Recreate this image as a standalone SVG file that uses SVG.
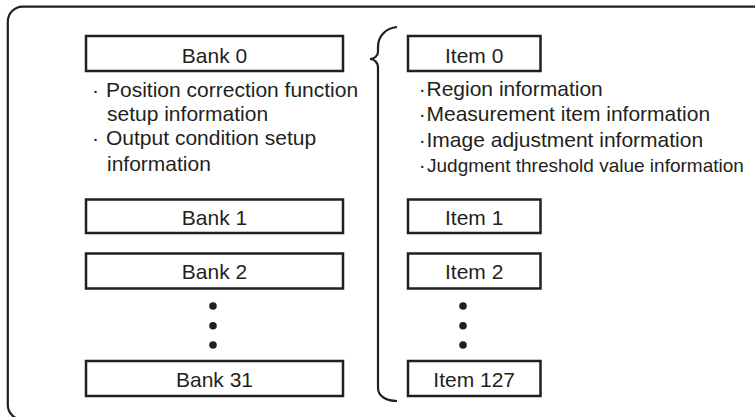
<svg xmlns="http://www.w3.org/2000/svg" width="755" height="417" viewBox="0 0 755 417">
<style>
.box{fill:#fff;stroke:#231f20;stroke-width:2.5}
.lbl{font-family:"Liberation Sans",Arial,sans-serif;font-size:21px;fill:#231f20}
.mid{text-anchor:middle}
.dot{fill:#231f20}
.line{fill:none;stroke:#231f20;stroke-width:2.2}
</style>
<rect width="755" height="417" fill="#fff"/>
<rect id="frame" class="line" x="7.8" y="6.7" width="770" height="413" rx="15" ry="15" stroke-width="2.4"/>
<g id="bank0"><rect class="box" x="86" y="36" width="257" height="35"/><text class="lbl mid" x="214.5" y="63.3">Bank 0</text></g>
<g id="bank0-info">
<text class="lbl" y="96.7"><tspan x="92">·</tspan><tspan x="106">Position correction function</tspan></text>
<text class="lbl" x="107" y="120.7">setup information</text>
<text class="lbl" y="145"><tspan x="92">·</tspan><tspan x="106">Output condition setup</tspan></text>
<text class="lbl" x="107" y="171">information</text>
</g>
<g id="bank1"><rect class="box" x="86" y="199.5" width="257" height="33.5"/><text class="lbl mid" x="214.5" y="225">Bank 1</text></g>
<g id="bank2"><rect class="box" x="86" y="253.5" width="257" height="35"/><text class="lbl mid" x="214.5" y="279.3">Bank 2</text></g>
<g id="bank-dots"><circle class="dot" cx="213" cy="306" r="3.8"/><circle class="dot" cx="213" cy="325.7" r="3.8"/><circle class="dot" cx="213" cy="345" r="3.8"/></g>
<g id="bank31"><rect class="box" x="86" y="361" width="257" height="35"/><text class="lbl mid" x="214.5" y="386.7">Bank 31</text></g>
<g id="connectors">
<path id="brace" class="line" d="M397,27 C386,28 378,36 378,47 L378,52 C378,56 374,59 370,59 C374,59 378,62 378,68 L378,388 C378,396 386,401 397,401"/>
</g>
<g id="item0"><rect class="box" x="408" y="36" width="132.5" height="35"/><text class="lbl mid" x="474.2" y="63.3">Item 0</text></g>
<g id="item0-info">
<text class="lbl" y="95.5"><tspan x="418.8">·</tspan><tspan x="426.5">Region information</tspan></text>
<text class="lbl" y="121"><tspan x="418.8">·</tspan><tspan x="426.5">Measurement item information</tspan></text>
<text class="lbl" y="146.5"><tspan x="418.8">·</tspan><tspan x="426.5">Image adjustment information</tspan></text>
<text class="lbl" y="171.5"><tspan x="418.8">·</tspan><tspan x="427" style="font-size:19px">Judgment threshold value information</tspan></text>
</g>
<g id="item1"><rect class="box" x="408" y="199.5" width="132.5" height="33.5"/><text class="lbl mid" x="474.2" y="224.5">Item 1</text></g>
<g id="item2"><rect class="box" x="408" y="253.5" width="132.5" height="35"/><text class="lbl mid" x="474.2" y="279">Item 2</text></g>
<g id="item-dots"><circle class="dot" cx="463" cy="306" r="3.8"/><circle class="dot" cx="463" cy="325.7" r="3.8"/><circle class="dot" cx="463" cy="345" r="3.8"/></g>
<g id="item127"><rect class="box" x="408" y="361" width="132.5" height="35"/><text class="lbl mid" x="474.2" y="386.7">Item 127</text></g>
</svg>
